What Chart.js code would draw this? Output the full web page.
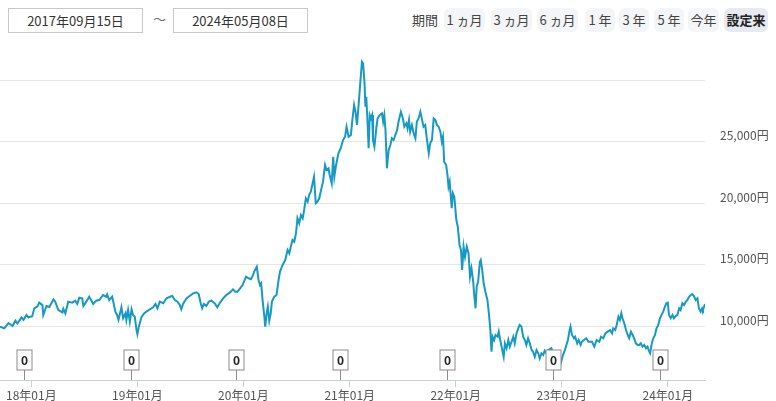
<!DOCTYPE html>
<html lang="ja">
<head>
<meta charset="utf-8">
<script src="https://cdn.jsdelivr.net/npm/chart.js@4"></script>
<style>
    body { margin: 0; width: 776px; height: 401px; overflow: hidden; background: #fff; font-family: "Noto Sans CJK JP", sans-serif; color: #333; }
    .date-box { position: absolute; top: 8px; height: 25px; width: 135px; box-sizing: border-box; border: 1px solid #c8c8c8; font-size: 13px; line-height: 23px; text-align: center; color: #333; }
    .tilde { position: absolute; top: 9px; left: 153px; font-size: 13px; color: #666; }
    .btn { position: absolute; top: 8px; height: 24px; line-height: 24px; border-radius: 6px; background: #f4f5f7; font-size: 13px; text-align: center; color: #444; }
    .btn .n { margin-right: 3px; }
    .btn.label { background: none; }
    .btn.active { background: #e7eaf1; font-weight: bold; color: #222; }
    .chart-wrap { position: absolute; top: 40px; left: 0; width: 776px; height: 361px; }
</style>
</head>
<body>
<div class="date-box" style="left:8px">2017年09月15日</div>
<div class="tilde">～</div>
<div class="date-box" style="left:173px">2024年05月08日</div>

<div class="btn label" style="left:411px;width:28px">期間</div>
<div class="btn" style="left:444px;width:41px"><span class="n">1</span>ヵ月</div>
<div class="btn" style="left:491px;width:41px"><span class="n">3</span>ヵ月</div>
<div class="btn" style="left:537px;width:41px"><span class="n">6</span>ヵ月</div>
<div class="btn" style="left:585px;width:30px"><span class="n">1</span>年</div>
<div class="btn" style="left:619px;width:30px"><span class="n">3</span>年</div>
<div class="btn" style="left:654px;width:30px"><span class="n">5</span>年</div>
<div class="btn" style="left:688px;width:31px">今年</div>
<div class="btn active" style="left:724px;width:44px">設定来</div>

<div class="chart-wrap"><canvas id="chart" width="776" height="361"></canvas></div>

<script>
// Price history (dates / 円)
const dates = [
    "2017-09-15","2017-09-30","2017-10-14","2017-10-28","2017-11-07","2017-11-14","2017-11-28","2017-12-05","2017-12-15","2017-12-22",
    "2018-01-04","2018-01-11","2018-01-22","2018-01-28","2018-02-08","2018-02-11","2018-02-22","2018-03-04","2018-03-18","2018-03-24",
    "2018-04-04","2018-04-18","2018-04-21","2018-04-28","2018-05-08","2018-05-22","2018-06-01","2018-06-08","2018-06-15","2018-06-25",
    "2018-06-29","2018-07-09","2018-07-19","2018-08-02","2018-08-12","2018-08-23","2018-09-05","2018-09-16","2018-09-19","2018-09-26",
    "2018-10-06","2018-10-10","2018-10-17","2018-10-23","2018-10-28","2018-11-07","2018-11-13","2018-11-21","2018-11-24","2018-11-30",
    "2018-12-06","2018-12-12","2018-12-17","2018-12-23","2018-12-29","2019-01-01","2019-01-06","2019-01-15","2019-01-24","2019-02-01",
    "2019-02-13","2019-02-24","2019-03-04","2019-03-11","2019-03-19","2019-03-31","2019-04-11","2019-04-23","2019-05-01","2019-05-10",
    "2019-05-19","2019-05-27","2019-06-01","2019-06-07","2019-06-19","2019-06-30","2019-07-12","2019-07-23","2019-07-31","2019-08-07",
    "2019-08-12","2019-08-18","2019-08-26","2019-09-04","2019-09-13","2019-09-24","2019-10-03","2019-10-11","2019-10-23","2019-11-03",
    "2019-11-15","2019-11-26","2019-12-04","2019-12-11","2019-12-18","2019-12-29","2020-01-10","2020-01-19","2020-01-27","2020-02-02",
    "2020-02-07","2020-02-16","2020-02-22","2020-02-27","2020-03-02","2020-03-07","2020-03-13","2020-03-16","2020-03-21","2020-03-25",
    "2020-03-30","2020-04-04","2020-04-08","2020-04-16","2020-04-24","2020-05-01","2020-05-06","2020-05-15","2020-05-24","2020-06-01",
    "2020-06-07","2020-06-12","2020-06-18","2020-06-24","2020-06-30","2020-07-05","2020-07-11","2020-07-17","2020-07-23","2020-07-28",
    "2020-08-03","2020-08-09","2020-08-14","2020-08-20","2020-08-31","2020-09-06","2020-09-12","2020-09-18","2020-09-27","2020-10-01",
    "2020-10-08","2020-10-13","2020-10-20","2020-10-24","2020-10-31","2020-11-05","2020-11-09","2020-11-14","2020-11-23","2020-12-01",
    "2020-12-09","2020-12-16","2020-12-21","2020-12-28","2021-01-05","2021-01-10","2021-01-16","2021-01-21","2021-01-26","2021-02-01",
    "2021-02-07","2021-02-12","2021-02-16","2021-02-21","2021-02-24","2021-02-27","2021-03-04","2021-03-07","2021-03-11","2021-03-15",
    "2021-03-19","2021-03-22","2021-03-27","2021-04-03","2021-04-07","2021-04-14","2021-04-22","2021-04-26","2021-04-30","2021-05-04",
    "2021-05-09","2021-05-15","2021-05-21","2021-05-26","2021-06-01","2021-06-07","2021-06-13","2021-06-18","2021-06-26","2021-07-03",
    "2021-07-08","2021-07-15","2021-07-19","2021-07-24","2021-07-28","2021-08-03","2021-08-09","2021-08-15","2021-08-20","2021-08-26",
    "2021-09-01","2021-09-06","2021-09-12","2021-09-18","2021-09-24","2021-09-30","2021-10-05","2021-10-11","2021-10-17","2021-10-23",
    "2021-10-28","2021-11-03","2021-11-09","2021-11-14","2021-11-18","2021-11-22","2021-11-29","2021-12-04","2021-12-07","2021-12-11",
    "2021-12-15","2021-12-18","2021-12-22","2021-12-27","2022-01-03","2022-01-08","2022-01-14","2022-01-19","2022-01-23","2022-01-28",
    "2022-02-02","2022-02-08","2022-02-14","2022-02-19","2022-02-24","2022-03-02","2022-03-05","2022-03-10","2022-03-14","2022-03-19",
    "2022-03-25","2022-03-28","2022-04-02","2022-04-07","2022-04-13","2022-04-20","2022-04-25","2022-04-30","2022-05-04","2022-05-08",
    "2022-05-13","2022-05-18","2022-05-25","2022-05-29","2022-06-03","2022-06-10","2022-06-15","2022-06-19","2022-06-25","2022-07-01",
    "2022-07-06","2022-07-12","2022-07-18","2022-07-23","2022-07-29","2022-08-04","2022-08-09","2022-08-15","2022-08-21","2022-08-27",
    "2022-09-01","2022-09-07","2022-09-13","2022-09-19","2022-09-24","2022-09-30","2022-10-06","2022-10-12","2022-10-17","2022-10-23",
    "2022-10-29","2022-11-03","2022-11-09","2022-11-15","2022-11-26","2022-12-02","2022-12-13","2022-12-25","2022-12-30","2023-01-05",
    "2023-01-11","2023-01-17","2023-01-22","2023-01-28","2023-01-31","2023-02-05","2023-02-12","2023-02-16","2023-02-23","2023-02-28",
    "2023-03-07","2023-03-11","2023-03-18","2023-03-26","2023-04-03","2023-04-15","2023-04-23","2023-05-01","2023-05-10","2023-05-16",
    "2023-05-24","2023-05-31","2023-06-08","2023-06-16","2023-06-23","2023-06-27","2023-07-04","2023-07-09","2023-07-15","2023-07-20",
    "2023-07-25","2023-07-29","2023-08-04","2023-08-10","2023-08-16","2023-08-21","2023-08-27","2023-09-02","2023-09-07","2023-09-13",
    "2023-09-19","2023-09-25","2023-09-30","2023-10-06","2023-10-12","2023-10-18","2023-10-23","2023-10-29","2023-11-01","2023-11-07",
    "2023-11-12","2023-11-18","2023-11-23","2023-11-29","2023-12-05","2023-12-10","2023-12-16","2023-12-23","2023-12-27","2024-01-01",
    "2024-01-05","2024-01-11","2024-01-17","2024-01-22","2024-01-28","2024-02-03","2024-02-09","2024-02-14","2024-02-20","2024-02-26",
    "2024-03-03","2024-03-08","2024-03-14","2024-03-20","2024-03-25","2024-03-31","2024-04-06","2024-04-12","2024-04-17","2024-04-23",
    "2024-04-28","2024-05-01","2024-05-08"
];
const prices = [
    9950,9810,10240,10000,10430,10200,10700,10500,10890,10700,
    10800,11440,11600,11900,11700,10890,11630,11550,12170,11980,
    11300,11100,11400,11030,11980,11900,12060,11790,12300,12250,
    11630,11980,12380,11790,12060,12110,12520,12380,12570,12110,
    12380,11980,11170,10900,10500,11520,10630,11030,10490,11300,
    10360,11350,10900,10760,9670,9325,9950,10710,11030,11170,
    11360,11520,11790,11440,11980,11850,12250,12380,12440,12110,
    11980,11710,11360,11790,12250,12440,12650,12740,12600,11850,
    11440,11790,11630,11980,12060,11850,11520,11850,12250,12520,
    12710,12980,12790,12790,12980,13330,14010,13880,13800,14070,
    14420,14820,13740,13330,13470,12110,10760,9950,11030,11570,
    10430,11030,11980,12380,12520,13740,14420,14960,15370,16180,
    15910,16450,16990,16850,17540,18760,18350,19020,18760,19430,
    20380,20110,20650,20920,22140,19980,20110,20380,21330,21730,
    23090,22680,22820,22280,21600,23760,22140,22950,24040,24450,
    25120,25390,26200,25390,25530,26750,27970,27400,26340,28110,
    30000,31490,31360,29730,27830,28640,26200,24450,27150,26880,
    27150,25120,24580,26200,26880,27150,27290,26610,27150,25930,
    22820,24310,24720,25260,25120,25530,25930,26610,27420,26880,
    26200,26480,26070,26750,25800,26340,25670,25260,26610,26880,
    27420,26880,26200,26340,25120,24040,24850,25120,26880,26750,
    26340,26200,25800,24990,25390,23360,23090,22140,21330,21730,
    20510,19570,20790,20510,18620,18070,16590,16180,14550,16450,
    15630,16450,15910,14010,14690,13600,12660,11440,13200,13600,
    15230,15370,14550,13470,12790,12110,11030,9670,7910,9130,
    8860,9270,9130,9540,8860,8050,7500,8590,8190,8860,
    8320,8720,9130,8590,9400,9810,10080,9950,9130,8860,
    8460,9000,8590,8050,7910,7500,8050,7780,7370,7780,
    7640,7990,7780,8050,8190,7780,7240,6690,7100,7640,
    7990,8460,8860,9670,9950,9270,9000,9130,8590,8860,
    8460,8720,8860,9000,8720,8720,8320,8860,8720,9130,
    9000,9400,9540,9670,9400,9810,9670,10080,10760,10490,
    11030,10630,10220,9670,9270,9000,9540,9270,9000,8590,
    8460,8460,8590,8320,8460,8190,8320,7910,7780,8590,
    9000,9270,9810,10080,10630,10890,11170,11630,11850,11900,
    10890,10630,10890,10630,10810,10890,11440,11300,11850,11710,
    11980,12110,12380,12520,12600,12440,12110,12250,11440,11170,
    11440,11300,11790
];

// Dividend markers (分配金)
const dividendDates = ["2017-12-07", "2018-12-11", "2019-12-06", "2020-11-30", "2021-12-03", "2022-12-01", "2023-12-06"];
const dividendValues = [0, 0, 0, 0, 0, 0, 0];

// Axis ticks
const yearTicks = ["2018-01-01", "2019-01-01", "2020-01-01", "2021-01-01", "2022-01-01", "2023-01-01", "2024-01-01"];
const priceTicks = [10000, 15000, 20000, 25000, 30000];

const startDate = "2017-09-15";
const endDate = "2024-05-08";

const fontFamily = '"Noto Sans CJK JP", sans-serif';
const lineColor = "#1699c3";
const axisColor = "#c9cfd8";

const dividendMarks = {
    id: "dividendMarks",
    afterDatasetsDraw(chart) {
        const { ctx, chartArea, scales } = chart;
        const bottom = chartArea.bottom;
        ctx.save();
        dividendDates.forEach((d, i) => {
            const x = Math.round(scales.x.getPixelForValue(Date.parse(d))) + 0.5;
            ctx.strokeStyle = "#8c8c8c";
            ctx.lineWidth = 1;
            ctx.beginPath();
            ctx.moveTo(x, bottom - 10);
            ctx.lineTo(x, bottom);
            ctx.stroke();
            ctx.fillStyle = "#fff";
            ctx.fillRect(x - 7.5, bottom - 30, 15, 20);
            ctx.strokeRect(x - 7.5, bottom - 30, 15, 20);
            ctx.fillStyle = "#222";
            ctx.font = "bold 12px " + fontFamily;
            ctx.textAlign = "center";
            ctx.textBaseline = "middle";
            ctx.fillText(String(dividendValues[i]), x, bottom - 20);
        });
        ctx.restore();
    }
};

const points = dates.map((d, i) => ({ x: Date.parse(d), y: prices[i] }));

new Chart(document.getElementById("chart"), {
    type: "line",
    data: {
        datasets: [
            {
                data: points,
                borderColor: lineColor,
                borderWidth: 2,
                pointRadius: 0,
                tension: 0,
                fill: false
            }
        ]
    },
    options: {
        responsive: false,
        animation: false,
        devicePixelRatio: 1,
        layout: {
            padding: { top: 10, left: 0, right: 0, bottom: 0 }
        },
        plugins: {
            legend: { display: false },
            tooltip: { enabled: false }
        },
        scales: {
            x: {
                type: "linear",
                min: Date.parse(startDate),
                max: Date.parse(endDate),
                afterBuildTicks: (scale) => {
                    scale.ticks = yearTicks.map(d => ({ value: Date.parse(d) }));
                },
                afterFit: (scale) => {
                    scale.height = 21;
                    scale.paddingLeft = 0;
                    scale.paddingRight = 0;
                },
                grid: {
                    drawOnChartArea: false,
                    drawTicks: true,
                    tickLength: 7,
                    color: axisColor
                },
                border: { color: axisColor },
                ticks: {
                    autoSkip: false,
                    maxRotation: 0,
                    padding: 1,
                    color: "#555",
                    font: { family: fontFamily, size: 12 },
                    callback: (v) => {
                        const d = new Date(v);
                        const yy = String(d.getUTCFullYear()).slice(2);
                        const mm = String(d.getUTCMonth() + 1).padStart(2, "0");
                        return yy + "年" + mm + "月";
                    }
                }
            },
            y: {
                position: "right",
                min: 5610,
                max: 32440,
                afterBuildTicks: (scale) => {
                    scale.ticks = priceTicks.map(v => ({ value: v }));
                },
                afterFit: (scale) => {
                    scale.width = 71;
                    scale.paddingTop = 0;
                    scale.paddingBottom = 0;
                },
                grid: {
                    color: "#e6e6e6",
                    drawTicks: false
                },
                border: { display: false },
                ticks: {
                    padding: 15,
                    labelOffset: -6,
                    color: "#555",
                    font: { family: fontFamily, size: 12 },
                    callback: (v) => v >= 30000 ? "" : v.toLocaleString("ja-JP") + "円"
                }
            }
        }
    },
    plugins: [dividendMarks]
});
</script>
</body>
</html>
